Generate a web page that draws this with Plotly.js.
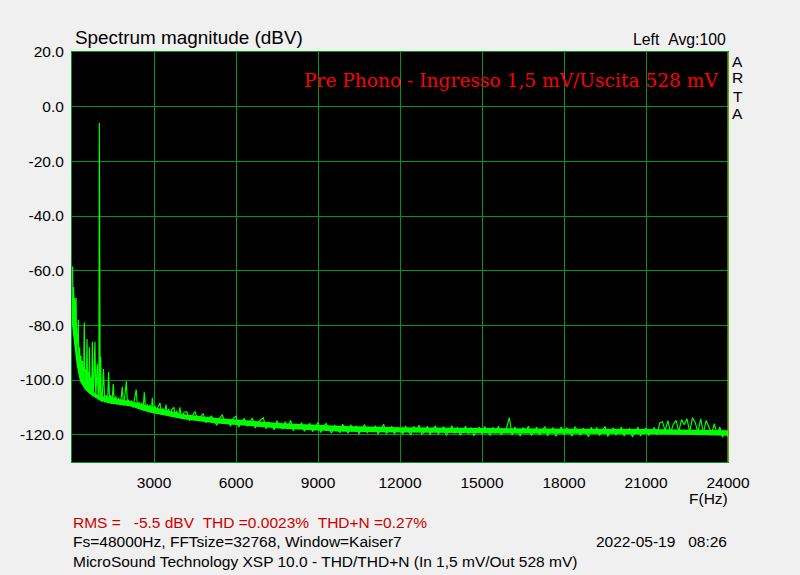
<!DOCTYPE html>
<html>
<head>
<meta charset="utf-8">
<script src="https://cdn.plot.ly/plotly-3.0.1.min.js"></script>
<style>
  html, body { margin: 0; padding: 0; background: #f0f0f0; }
  #chart { width: 800px; height: 575px; }
</style>
</head>
<body>
<div id="chart"></div>
<script>
// Spectrum: frequency (Hz) and magnitude (dBV)
const freqLow = [0,20,40,60,80,100,120,150,170,200,
                 230,250,280,300,330,350,380,400,430,450,
                 470,500,520,550,570,600,620,635,660,690,
                 720,745,770,800,840,870,900,925,960,985,
                 1000,1015,1030,1050,1070];
const levelLow = [-62,-58.5,-78,-66,-84,-70,-88,-70,-92,-82,
                  -78,-96,-88,-99,-91,-100.5,-93,-101.5,-95,-79,
                  -103,-96,-103.5,-85,-104,-97,-104.5,-88,-105,-99,
                  -105.5,-86,-106,-100,-86,-106.5,-101,-94,-107,-103,
                  -6,-104,-107.5,-91.5,-107.5];

const freqMid = [1100,1150,1200,1250,1300,1340,1380,1420,1460,1510,
                 1550,1600,1650,1700,1750,1800,1840,1880,1920,1990,
                 2030,2080,2130,2180,2230,2280,2350,2400,2450,2500,
                 2550,2600,2645,2700,2750,2800,2850,2900,2940,2990,
                 3040,3090,3140,3220,3270,3330,3380,3440,3490,3540,
                 3600,3650,3730,3780,3830,3880,3950,4000];
const levelMid = [-108,-96,-108.3,-105.5,-108.5,-97,-108.5,-105.5,-108.8,-101.5,
                  -108.8,-106,-109,-106.5,-109.2,-106.5,-102.5,-109.3,-107,-100.5,
                  -109.5,-107.2,-109.6,-107.5,-110,-107.5,-103.5,-110.5,-108,-110.8,
                  -108.3,-111.2,-104.5,-111.5,-108.8,-111.8,-109,-112,-106.5,-112.2,
                  -109.5,-112.4,-110,-108.4,-112.6,-110.2,-112.8,-109,-113,-110.6,
                  -113.2,-110.8,-110,-113.5,-111.2,-113.8,-110,-114];

const freqHigh = [4100,4200,4300,4400,4500,4600,4700,4800,4900,5000,
                  5100,5200,5300,5400,5500,5600,5700,5800,5900,6000,
                  6100,6200,6300,6400,6500,6600,6700,6800,6900,7000,
                  7100,7200,7300,7400,7500,7600,7700,7800,7900,8000,
                  8100,8200,8300,8400,8500,8600,8700,8800,8900,9000,
                  9100,9200,9300,9400,9500,9600,9700,9800,9900,10000,
                  10100,10200,10300,10400,10500,10600,10700,10800,10900,11000,
                  11100,11200,11300,11400,11500,11600,11700,11800,11900,12000,
                  12100,12200,12300,12400,12500,12600,12700,12800,12900,13000,
                  13100,13200,13300,13400,13500,13600,13700,13800,13900,14000,
                  14100,14200,14300,14400,14500,14600,14700,14800,14900,15000,
                  15100,15200,15300,15400,15500,15600,15700,15800,15900,16000,
                  16100,16200,16300,16400,16500,16600,16700,16800,16900,17000,
                  17100,17200,17300,17400,17500,17600,17700,17800,17900,18000,
                  18100,18200,18300,18400,18500,18600,18700,18800,18900,19000,
                  19100,19200,19300,19400,19500,19600,19700,19800,19900,20000,
                  20100,20200,20300,20400,20500,20600,20700,20800,20900,21000,
                  21100,21200,21300,21400,21500,21600,21700,21800,21900,22000,
                  22100,22200,22300,22400,22500,22600,22700,22800,22900,23000,
                  23100,23200,23300,23400,23500,23600,23700,23800,23900,24000];
const levelHigh = [-111.8,-111.6,-114.9,-113.2,-111.5,-114.7,-113.4,-112.3,-115.6,-114.0,
                   -113.2,-115.1,-116.6,-113.9,-112.8,-115.8,-114.4,-116.9,-114.0,-113.3,
                   -117.3,-115.2,-114.1,-116.9,-115.6,-113.9,-117.6,-115.5,-114.6,-113.8,
                   -117.9,-115.4,-116.6,-118.2,-114.9,-116.8,-117.8,-115.3,-117.0,-114.8,
                   -118.6,-116.1,-117.4,-115.6,-118.8,-117.0,-116.0,-118.9,-117.5,-115.5,
                   -119.2,-116.9,-115.9,-118.0,-119.4,-116.5,-117.9,-119.3,-116.2,-117.6,
                   -119.5,-116.4,-118.3,-116.8,-119.7,-118.0,-116.3,-119.4,-117.5,-118.9,
                   -116.7,-119.8,-117.9,-116.2,-119.6,-118.6,-116.9,-119.9,-117.4,-118.0,
                   -119.9,-116.8,-118.6,-120.1,-117.0,-118.2,-116.6,-119.8,-118.9,-116.9,
                   -120.0,-117.7,-116.9,-119.9,-118.3,-117.1,-120.3,-118.7,-116.8,-119.6,
                   -117.3,-120.2,-118.5,-116.9,-119.8,-117.4,-120.4,-118.9,-117.2,-119.9,
                   -117.0,-118.8,-120.3,-117.3,-119.5,-116.9,-120.1,-118.4,-117.5,-113.8,
                   -120.2,-117.2,-119.0,-120.5,-117.4,-118.6,-116.9,-120.3,-118.9,-117.3,
                   -120.1,-118.3,-117.0,-120.4,-118.8,-117.4,-120.6,-118.6,-117.2,-120.0,
                   -117.5,-119.2,-120.5,-117.1,-118.9,-120.2,-117.6,-119.0,-120.7,-117.3,
                   -119.6,-117.4,-120.3,-118.7,-117.0,-120.6,-119.1,-117.5,-120.2,-118.6,
                   -117.2,-120.5,-118.9,-117.6,-120.8,-119.2,-117.3,-120.4,-118.7,-117.5,
                   -120.3,-118.6,-117.4,-120.1,-115.8,-115.2,-118.5,-114.9,-119.3,-116.2,
                   -114.8,-118.9,-114.5,-116.4,-114.2,-119.1,-113.8,-115.5,-119.2,-114.2,
                   -119.4,-114.8,-117.0,-119.6,-116.0,-120.1,-117.2,-121.0,-118.5,-120.8];

// Solid noise-floor band (upper / lower edge of the filled trace)
const bandFreq  = [0, 50, 100, 170, 290, 475, 660, 1000, 1390, 2120, 2850, 4060, 5290, 6510, 7720, 8950, 9920, 12000, 15000, 18000, 21000, 24000];
const bandUpper = [-66, -72, -80, -87, -96.5, -101, -103.5, -105.8, -106.3, -107.7, -109.6, -112.4, -113.9, -114.9, -115.8, -116.4, -116.8, -117.3, -117.6, -117.8, -117.9, -118.4];
const bandLower = [-80, -84, -90, -94.5, -100.5, -103.5, -105.2, -107.4, -108.6, -109.6, -111.9, -114.4, -115.9, -116.9, -117.8, -118.5, -118.9, -119.2, -119.5, -119.7, -119.8, -120.4];

const yTickVals = [20, 0, -20, -40, -60, -80, -100, -120];
const yTickText = ["20.0", "0.0", "-20.0", "-40.0", "-60.0", "-80.0", "-100.0", "-120.0"];
const xTickVals = [3000, 6000, 9000, 12000, 15000, 18000, 21000, 24000];
const xTickText = ["3000", "6000", "9000", "12000", "15000", "18000", "21000", "24000"];

const freq = freqLow.concat(freqMid, freqHigh);
const level = levelLow.concat(levelMid, levelHigh);

const NB = '\u00a0';
const FONT = 'Liberation Sans, Arial, sans-serif';
const GRID = '#00961e';
const GREEN = '#00ff00';

// paper-coordinate helpers from pixel positions (plot area 72..728 x 52..462)
const px = x => (x - 72) / 656;
const py = y => (462 - y) / 410;

const traces = [
  { x: bandFreq, y: bandLower, type: 'scatter', mode: 'lines',
    line: { color: GREEN, width: 0 }, hoverinfo: 'skip' },
  { x: bandFreq, y: bandUpper, type: 'scatter', mode: 'lines', fill: 'tonexty',
    fillcolor: GREEN, line: { color: GREEN, width: 0 }, hoverinfo: 'skip' },
  { x: freq, y: level, type: 'scatter', mode: 'lines',
    line: { color: GREEN, width: 1.2 }, hoverinfo: 'skip' }
];

const ann = (text, x, y, xanchor, size, color, family) => ({
  text, xref: 'paper', yref: 'paper', x: px(x), y: py(y), xanchor, yanchor: 'middle',
  showarrow: false, font: { family: family || FONT, size, color }
});

const layout = {
  width: 800, height: 575,
  paper_bgcolor: '#f0f0f0', plot_bgcolor: '#000000',
  margin: { l: 72, r: 72, t: 52, b: 113 },
  showlegend: false,
  font: { family: FONT, size: 15.5, color: '#000' },
  xaxis: {
    range: [0, 24000], tickvals: xTickVals, ticktext: xTickText,
    showgrid: true, gridcolor: GRID, gridwidth: 1,
    zeroline: false, showline: true, linecolor: GRID, linewidth: 1, mirror: true,
    ticks: '', ticklabelstandoff: 6,
    tickfont: { family: FONT, size: 15.5, color: '#000' }
  },
  yaxis: {
    range: [-130, 20], tickvals: yTickVals, ticktext: yTickText,
    showgrid: true, gridcolor: GRID, gridwidth: 1,
    zeroline: false, showline: true, linecolor: GRID, linewidth: 1, mirror: true,
    ticks: '', ticklabelstandoff: 4,
    tickfont: { family: FONT, size: 15.5, color: '#000' }
  },
  shapes: [
    { type: 'line', xref: 'paper', yref: 'paper', x0: 1, x1: 1, y0: 0, y1: 1,
      line: { color: '#b4c800', width: 1 } }
  ],
  annotations: [
    ann('Spectrum magnitude (dBV)', 73, 38, 'left', 18.9, '#000'),
    ann('Left' + NB + NB + 'Avg:100', 728, 40, 'right', 15.8, '#000'),
    ann('Pre Phono - Ingresso 1,5 mV/Uscita 528 mV', 720, 81, 'right', 18.6, '#ff0000', 'DejaVu Serif, serif'),
    ann('A', 738, 61, 'center', 15.5, '#000'),
    ann('R', 738, 78, 'center', 15.5, '#000'),
    ann('T', 738, 96, 'center', 15.5, '#000'),
    ann('A', 738, 113, 'center', 15.5, '#000'),
    ann('F(Hz)', 708, 498, 'center', 15.5, '#000'),
    ann('RMS =' + NB + NB + NB + '-5.5 dBV' + NB + NB + 'THD =0.0023%' + NB + NB + 'THD+N =0.27%', 71, 522, 'left', 15.5, '#cc0000'),
    ann('Fs=48000Hz, FFTsize=32768, Window=Kaiser7', 71, 541, 'left', 15.5, '#000'),
    ann('2022-05-19' + NB + NB + NB + '08:26', 729, 541, 'right', 15.5, '#000'),
    ann('MicroSound Technology XSP 10.0 - THD/THD+N (In 1,5 mV/Out 528 mV)', 71, 561, 'left', 15.5, '#000')
  ]
};

Plotly.newPlot('chart', traces, layout, { displayModeBar: false, staticPlot: true });
</script>
</body>
</html>
